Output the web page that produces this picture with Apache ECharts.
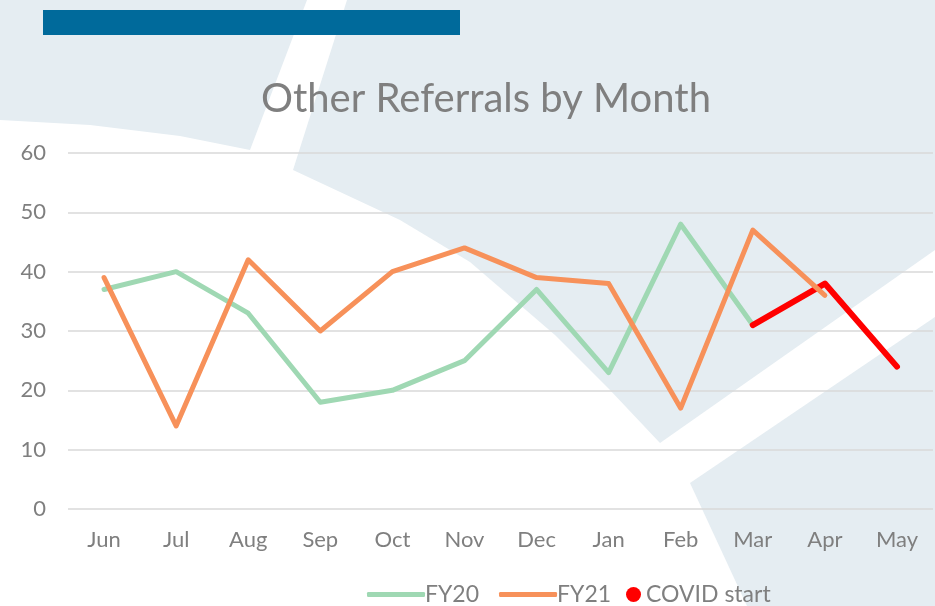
<!DOCTYPE html>
<html style="height: 100%">
<head>
    <meta charset="utf-8">
    <title>Other Referrals by Month</title>
    <script src="https://cdn.jsdelivr.net/npm/echarts@6/dist/echarts.min.js"></script>
</head>
<body style="height: 100%; margin: 0">
<div id="container" style="width: 935px; height: 606px"></div>
<script type="text/javascript">
    // chart data
    var months = ['Jun', 'Jul', 'Aug', 'Sep', 'Oct', 'Nov', 'Dec', 'Jan', 'Feb', 'Mar', 'Apr', 'May'];
    var fy20 = [37, 40, 33, 18, 20, 25, 37, 23, 48, 31, null, null];
    var fy21 = [39, 14, 42, 30, 40, 44, 39, 38, 17, 47, 36, null];
    var covid = [null, null, null, null, null, null, null, null, null, 31, 38, 24];
    var yTicks = [0, 10, 20, 30, 40, 50, 60];

    var textGrey = '#7f7f7f';
    var font = 'Lato, "Noto Sans", sans-serif';
    var shade = '#e5edf2';

    var myChart = echarts.init(document.getElementById('container'));
    var option = {
        backgroundColor: '#ffffff',
        animation: false,
        // watermark shapes behind the plot
        graphic: [
            {type: 'polygon', z: -10, silent: true,
                shape: {points: [[0, 0], [307, 0], [250, 150], [180, 136], [90, 125], [0, 120]]},
                style: {fill: shade}},
            {type: 'polygon', z: -10, silent: true,
                shape: {points: [[347, 0], [935, 0], [935, 250], [660, 443], [610, 390], [555, 335], [470, 262], [400, 220], [293, 170]]},
                style: {fill: shade}},
            {type: 'polygon', z: -10, silent: true,
                shape: {points: [[690, 483], [935, 317], [935, 606], [747, 606]]},
                style: {fill: shade}},
            {type: 'rect', z: -5, silent: true,
                shape: {x: 43, y: 10, width: 417, height: 25},
                style: {fill: '#006a9b'}}
        ],
        title: {
            text: 'Other Referrals by Month',
            left: 256,
            top: 74,
            textStyle: {color: textGrey, fontFamily: font, fontWeight: 'normal', fontSize: 40}
        },
        legend: [
            {
                data: ['FY20', 'FY21'],
                left: 362,
                top: 578,
                icon: 'roundRect',
                itemWidth: 58,
                itemHeight: 5,
                itemGap: 20,
                textStyle: {color: textGrey, fontFamily: font, fontSize: 23, padding: [0, 0, 0, -5]}
            },
            {
                data: ['COVID start'],
                left: 621,
                top: 578,
                icon: 'circle',
                itemWidth: 15,
                itemHeight: 15,
                textStyle: {color: textGrey, fontFamily: font, fontSize: 23}
            }
        ],
        grid: {left: 68, right: 2, top: 153, bottom: 97},
        xAxis: {
            type: 'category',
            data: months,
            boundaryGap: true,
            axisLine: {show: false},
            axisTick: {show: false},
            axisLabel: {color: textGrey, fontFamily: font, fontSize: 22, margin: 20}
        },
        yAxis: {
            type: 'value',
            min: yTicks[0],
            max: yTicks[yTicks.length - 1],
            interval: 10,
            axisLine: {show: false},
            axisTick: {show: false},
            axisLabel: {color: textGrey, fontFamily: font, fontSize: 22, margin: 22},
            splitLine: {lineStyle: {color: '#d9d9d9', width: 1.5}}
        },
        series: [
            {
                name: 'FY20', type: 'line', data: fy20, symbol: 'none',
                lineStyle: {color: '#9fd8b3', width: 5, cap: 'round', join: 'round'},
                itemStyle: {color: '#9fd8b3'}
            },
            {
                name: 'COVID start', type: 'line', data: covid, symbol: 'none',
                lineStyle: {color: '#ff0000', width: 6, cap: 'round', join: 'round'},
                itemStyle: {color: '#ff0000'}
            },
            {
                name: 'FY21', type: 'line', data: fy21, symbol: 'none',
                lineStyle: {color: '#f7915a', width: 5, cap: 'round', join: 'round'},
                itemStyle: {color: '#f7915a'}
            }
        ]
    };
    myChart.setOption(option);
</script>
</body>
</html>
